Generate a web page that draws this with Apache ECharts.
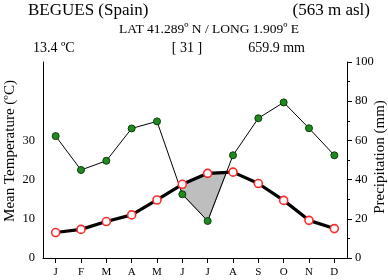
<!DOCTYPE html>
<html><head><meta charset="utf-8">
<script src="https://cdn.jsdelivr.net/npm/echarts@6/dist/echarts.min.js"></script>
<style>html,body{margin:0;padding:0;background:#fff}#c{width:388px;height:280px}</style>
</head><body><div id="c"></div>
<script>
const months = ['J','F','M','A','M','J','J','A','S','O','N','D'];
const temp = [6.5, 7.3, 9.3, 11.0, 14.8, 18.8, 21.6, 21.9, 19.0, 14.7, 9.6, 7.5];
const precip = [62.2, 44.9, 49.6, 66.1, 69.7, 32.5, 18.9, 52.4, 71.3, 79.4, 66.2, 52.4];
const tempTicks = [0, 10, 20, 30];
const precipTicks = [0, 20, 40, 60, 80, 100];
const titleText = 'BEGUES (Spain)';
const altText = '(563 m asl)';
const coordText = 'LAT 41.289º N / LONG 1.909º E';
const meanTempText = '13.4 ºC';
const yearsText = '[ 31 ]';
const totalPrecipText = '659.9 mm';
const tempName = 'Mean Temperature (ºC)';
const precipName = 'Precipitation (mm)';

const FONT = '"Liberation Serif", "Times New Roman", serif';

function droughtPolys(){
  const polys = []; let cur = null;
  for (let i = 0; i < temp.length; i++) {
    const d = precip[i] - 2 * temp[i];
    if (i > 0) {
      const dp = precip[i-1] - 2 * temp[i-1];
      if ((dp >= 0) !== (d >= 0)) {
        const f = dp / (dp - d);
        const x = i - 1 + f;
        const y = precip[i-1] + f * (precip[i] - precip[i-1]);
        if (cur) { cur.top.push([x, y]); cur.bot.push([x, y]); polys.push(cur); cur = null; }
        else { cur = {top: [[x, y]], bot: [[x, y]]}; }
      }
    }
    if (d < 0) {
      if (!cur) cur = {top: [], bot: []};
      cur.top.push([i, 2 * temp[i]]); cur.bot.push([i, precip[i]]);
    }
  }
  if (cur) polys.push(cur);
  return polys;
}

const chart = echarts.init(document.getElementById('c'), null, {renderer: 'canvas'});
const txt = (t, x, y, size, align) => ({type: 'text', left: undefined, x: x, y: y,
  style: {text: t, fill: '#000', font: size + 'px ' + FONT, textAlign: align, textVerticalAlign: 'middle'}, z: 10});

chart.setOption({
  animation: false,
  backgroundColor: '#fff',
  grid: {left: 43, right: 41, top: 62, bottom: 22, containLabel: false},
  xAxis: {
    type: 'category', data: months, boundaryGap: true,
    axisLine: {show: true, lineStyle: {color: '#000', width: 1}},
    axisTick: {show: true, alignWithLabel: true, length: 5, lineStyle: {color: '#000'}},
    axisLabel: {color: '#000', fontFamily: FONT, fontSize: 11, margin: 9, interval: 0},
    splitLine: {show: false}
  },
  yAxis: [
    {type: 'value', min: 0, max: 50, interval: 10, position: 'left',
     axisLine: {show: true, lineStyle: {color: '#000', width: 1}},
     axisTick: {show: false},
     axisLabel: {color: '#000', fontFamily: FONT, fontSize: 12.5, margin: 8,
       formatter: v => tempTicks.indexOf(v) >= 0 ? String(v) : ''},
     splitLine: {show: false}},
    {type: 'value', min: 0, max: 100, interval: 20, position: 'right',
     axisLine: {show: true, lineStyle: {color: '#000', width: 1}},
     axisTick: {show: true, length: 5, lineStyle: {color: '#000'}},
     minorTick: {show: true, splitNumber: 2, length: 3, lineStyle: {color: '#000'}},
     axisLabel: {color: '#000', fontFamily: FONT, fontSize: 12.5, margin: 8,
       formatter: v => precipTicks.indexOf(v) >= 0 ? String(v) : ''},
     splitLine: {show: false}}
  ],
  graphic: [
    txt(titleText, 28, 11, 17, 'left'),
    txt(altText, 370, 11, 17, 'right'),
    txt(coordText, 209, 29, 13.5, 'center'),
    txt(meanTempText, 33, 48, 14, 'left'),
    txt(yearsText, 187, 48, 14, 'center'),
    txt(totalPrecipText, 305, 48, 14, 'right'),
    {type: 'text', x: 10, y: 151, rotation: Math.PI / 2,
     style: {text: tempName, fill: '#000', font: '15px ' + FONT, textAlign: 'center', textVerticalAlign: 'middle'}},
    {type: 'text', x: 380, y: 157, rotation: Math.PI / 2,
     style: {text: precipName, fill: '#000', font: '15px ' + FONT, textAlign: 'center', textVerticalAlign: 'middle'}}
  ],
  series: [
    {type: 'custom', xAxisIndex: 0, yAxisIndex: 1, data: [[0, 0]], z: 1, silent: true,
     renderItem: function(params, api){
       const c0 = api.coord([0, 0]); const c1 = api.coord([1, 0]);
       const px = x => c0[0] + x * (c1[0] - c0[0]);
       const py = y => api.coord([0, y])[1];
       const children = droughtPolys().map(p => {
         const pts = p.top.concat(p.bot.slice().reverse()).map(q => [px(q[0]), py(q[1])]);
         return {type: 'polygon', shape: {points: pts},
           style: {fill: '#bebebe', stroke: '#444', lineWidth: 0.6}};
       });
       return {type: 'group', children: children};
     }},
    {name: 'Precipitation', type: 'line', xAxisIndex: 0, yAxisIndex: 1, data: precip, z: 3,
     symbol: 'circle', symbolSize: 7,
     lineStyle: {color: '#000', width: 1},
     itemStyle: {color: '#1f8a1f', borderColor: '#0b3d0b', borderWidth: 1}},
    {name: 'Temperature', type: 'line', xAxisIndex: 0, yAxisIndex: 0, data: temp, z: 4,
     symbol: 'circle', symbolSize: 8,
     lineStyle: {color: '#000', width: 3.2},
     itemStyle: {color: '#fff', borderColor: '#ff2a2a', borderWidth: 1.6}}
  ]
});
</script></body></html>
